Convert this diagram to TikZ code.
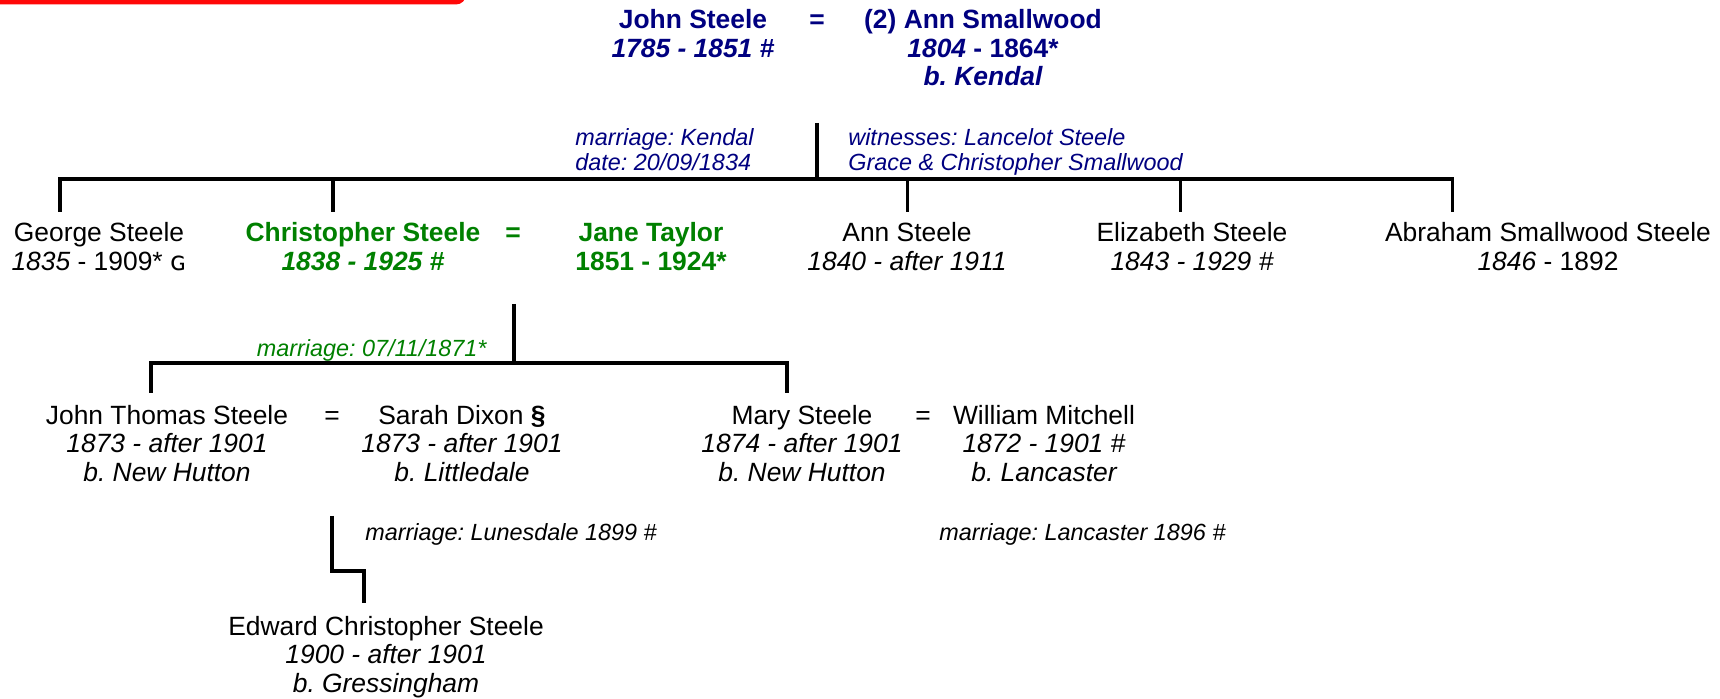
\documentclass[tikz,border=0pt]{standalone}
\usepackage{fontspec}
\setmainfont{Liberation Sans}
\newfontfamily\symbolfont{DejaVu Sans}
\usetikzlibrary{calc}
\definecolor{topblue}{RGB}{0,0,128}
\definecolor{kingreen}{RGB}{0,128,0}
\definecolor{redbar}{RGB}{255,8,8}
\frenchspacing
\newcommand\personfont{\fontsize{13.2}{14.25}\selectfont}
\newcommand\notefont{\fontsize{11.7}{12.6}\selectfont}
\tikzset{
	person/.style={align=center, inner sep=0pt, anchor=north, font=\personfont, execute at begin node=\strut},
	boldperson/.style={person, font=\personfont\bfseries},
	eqsign/.style={inner sep=0pt, anchor=base, font=\personfont},
	note/.style={align=left, inner sep=0pt, anchor=north west, font=\notefont\itshape, execute at begin node=\strut},
	treeline/.style={line width=0.53mm}
}

\begin{document}
\begin{tikzpicture}[x=0.5pt, y=-0.5pt]
			%%%%% START %%%%%
			\useasboundingbox (0,0) rectangle (1720,699);
			\fill[redbar, rounded corners=5pt] (-20,-30) rectangle (466,4.5);
			
			% John Steele and Ann Smallwood
			\node[boldperson, topblue] (john) at (693,9) {John Steele\\{\itshape 1785 - 1851 \#}};
			\node[eqsign, topblue, font=\personfont\bfseries] (eqtop) at (817,29) {=};
			\node[boldperson, topblue] (annsm) at (983,9) {(2) Ann Smallwood\\{\itshape 1804} - 1864*\\{\itshape b. Kendal}};
			
			\node[note, topblue] (wedtop) at (575,128.4) {marriage: Kendal\\date: 20/09/1834};
			\node[note, topblue] (witness) at (848,128.4) {witnesses: Lancelot Steele\\Grace \& Christopher Smallwood};
			
			% their children
			\node[person] (george) at (99,222) {George Steele\\{\itshape 1835} - 1909* {\symbolfont\fontsize{13}{14}\selectfont ɢ}};
			\node[boldperson, kingreen] (chris) at (363,222) {Christopher Steele\\{\itshape 1838 - 1925 \#}};
			\node[eqsign, kingreen, font=\personfont\bfseries] (eqchris) at (513,242) {=};
			\node[boldperson, kingreen] (jane) at (651,222) {Jane Taylor\\1851 - 1924*};
			\node[person] (ann) at (907,222) {Ann Steele\\{\itshape 1840 - after 1911}};
			\node[person] (eliza) at (1192,222) {Elizabeth Steele\\{\itshape 1843 - 1929 \#}};
			\node[person] (abraham) at (1548,222) {Abraham Smallwood Steele\\{\itshape 1846} - 1892};
			
			\coordinate (toptop) at (817,123);
			\coordinate (topbar) at (817,179);
			\draw[treeline] (toptop) -- (topbar);
			\draw[treeline] (60,212) -- (60,179) -- (1452,179) -- (1452,212);
			\draw[treeline] (333,179) -- (333,212);
			\draw[treeline] (907,179) -- (907,212);
			\draw[treeline] (1180,179) -- (1180,212);
			
			% Christopher and Jane
			\coordinate (christop) at (514,304);
			\coordinate (chrisbar) at (514,363);
			\draw[treeline] (christop) -- (chrisbar);
			\draw[treeline] (151,393) -- (151,363) -- (787,363) -- (787,393);
			\node[kingreen, inner sep=0pt, anchor=base east, font=\notefont\itshape] (wedchris) at (487,357) {marriage: 07/11/1871*};
			
			\node[person] (jthomas) at (167,404.5) {John Thomas Steele\\{\itshape 1873 - after 1901}\\{\itshape b. New Hutton}};
			\node[eqsign] (eqjt) at (332,424.5) {=};
			\node[person] (sarah) at (462,404.5) {Sarah Dixon {\bfseries\S}\\{\itshape 1873 - after 1901}\\{\itshape b. Littledale}};
			\node[person] (mary) at (802,404.5) {Mary Steele\\{\itshape 1874 - after 1901}\\{\itshape b. New Hutton}};
			\node[eqsign] (eqmary) at (923,424.5) {=};
			\node[person] (william) at (1044,404.5) {William Mitchell\\{\itshape 1872 - 1901 \#}\\{\itshape b. Lancaster}};
			
			\node[note] (wedjt) at (365,522.4) {marriage: Lunesdale 1899 \#};
			\node[note] (wedmary) at (939,522.4) {marriage: Lancaster 1896 \#};
			
			% Edward
			\coordinate (jttop) at (332,516);
			\draw[treeline] (jttop) -- (332,571) -- (364,571) -- (364,603);
			\node[person] (edward) at (386,615.5) {Edward Christopher Steele\\{\itshape 1900 - after 1901}\\{\itshape b. Gressingham}};
			
			%%%%% END %%%%%
		\end{tikzpicture}
\end{document}
